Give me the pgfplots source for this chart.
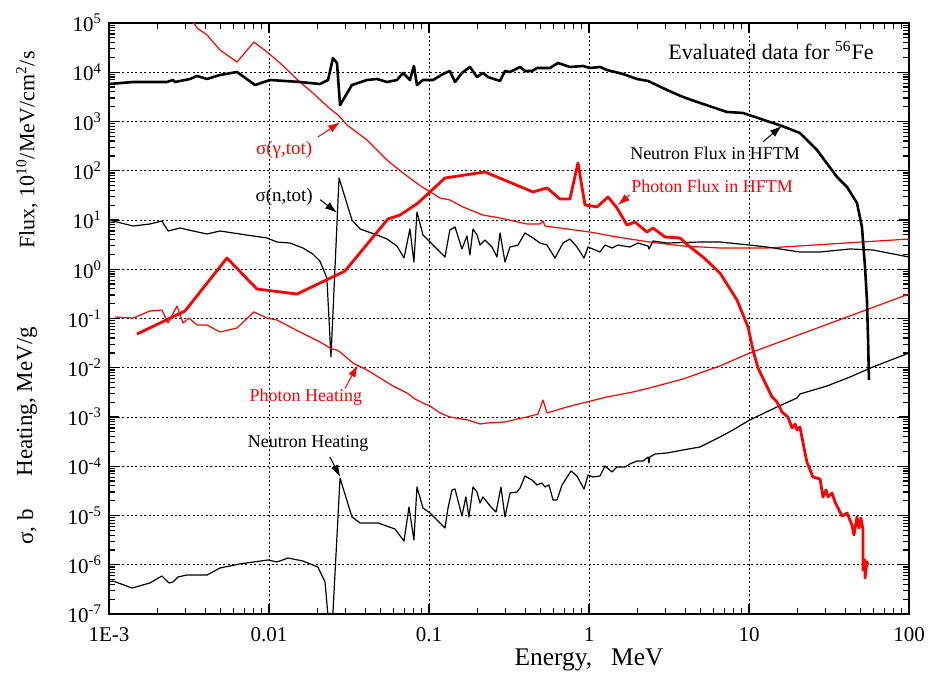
\documentclass[border=0pt]{standalone}
\usepackage{fontspec}
\setmainfont{Liberation Serif}
\usepackage{pgfplots}
\pgfplotsset{compat=1.18}
\usetikzlibrary{arrows.meta}

\begin{document}
\begin{tikzpicture}
\begin{axis}[
  scale only axis,
  width=400pt, height=295.5pt,
  xmode=log, ymode=log,
  xmin=1e-3, xmax=100, ymin=1e-7, ymax=1e5,
  xtick={1e-3,1e-2,1e-1,1,10,100},
  xticklabels={1E-3,0.01,0.1,1,10,100},
  ytick={1e-7,1e-6,1e-5,1e-4,1e-3,1e-2,1e-1,1,10,100,1e3,1e4,1e5},
  yticklabels={10\textsuperscript{-7},10\textsuperscript{-6},10\textsuperscript{-5},10\textsuperscript{-4},10\textsuperscript{-3},10\textsuperscript{-2},10\textsuperscript{-1},10\textsuperscript{0},10\textsuperscript{1},10\textsuperscript{2},10\textsuperscript{3},10\textsuperscript{4},10\textsuperscript{5}},
  tick label style={font=\fontsize{10.5}{12}\selectfont},
  xticklabel style={inner sep=0pt, yshift=-6.5pt},
  xmajorgrids, ymajorgrids,
  major grid style={black, line width=0.4pt, dash pattern=on 1pt off 1.2pt},
  axis line style={line width=1pt},
  major tick length=5pt, minor tick length=3pt,
  tick style={black, line width=0.6pt},
  xlabel={Energy,\hspace{0.75em}MeV},
  xlabel style={at={(axis description cs:0.6,-0.0875)}, anchor=base, inner sep=0pt, font=\fontsize{12.7}{15}\selectfont},
  clip mode=individual,
  every axis plot/.append style={line join=round},
]

% sigma(gamma,tot)
\addplot[red, line width=0.6pt] coordinates {
(3.12e-3,1.52e5) (3.40e-3,1e5) (3.55e-3,7.91e4) (4.10e-3,5.70e4) (4.94e-3,2.83e4)
(6.31e-3,1.61e4) (8.05e-3,4.11e4) (9.72e-3,2.58e4) (1.172e-2,1.54e4) (1.56e-2,6.34e3)
(1.88e-2,3.79e3) (2.41e-2,1.80e3) (2.70e-2,1.36e3) (3.07e-2,849) (4.10e-2,421)
(5.46e-2,165) (6.88e-2,90.0) (8.79e-2,50) (0.1172,28.0) (0.135,25.5) (0.163,18.4)
(0.2175,12.6) (0.278,11.0) (0.410,8.29) (0.494,8.29) (0.516,9.55) (0.531,7.55)
(0.729,6.57) (1.014,5.70) (1.496,4.52) (2.40,3.57) (3.87,2.96) (6.59,2.70)
(12.96,2.70) (100,4.11)
};

% sigma(n,tot)
\addplot[black, line width=0.6pt] coordinates {
(1e-3,10.0) (1.413e-3,7.55) (1.80e-3,8.29) (2.14e-3,9.55) (2.34e-3,5.98) (2.78e-3,6.88)
(3.35e-3,5.98) (4.10e-3,5.20) (4.94e-3,5.98) (5.96e-3,5.45) (9.72e-3,4.31) (1.122e-2,3.57)
(1.35e-2,3.41) (1.63e-2,2.70) (1.88e-2,2.04) (2.08e-2,1.47) (2.30e-2,0.664) (2.44e-2,0.0165)
(2.74e-2,71.3) (3.30e-2,10.0) (3.71e-2,6.57) (4.73e-2,4.96) (5.46e-2,4.11) (6.31e-2,2.96)
(6.98e-2,1.69) (7.60e-2,6.57) (8.05e-2,1.40) (8.41e-2,14.5) (9.17e-2,4.96) (0.1015,3.57)
(0.1259,1.77) (0.135,6.27) (0.1454,7.21) (0.1607,2.58) (0.1727,4.73) (0.1803,1.95)
(0.1884,6.57) (0.1995,4.96) (0.2084,3.10) (0.2239,3.92) (0.2477,2.83) (0.266,1.77)
(0.278,5.45) (0.2985,1.40) (0.3209,2.83) (0.360,3.10) (0.398,5.45) (0.4467,4.31)
(0.494,3.41) (0.5464,3.10) (0.613,1.69) (0.688,3.41) (0.760,4.11) (0.841,2.83)
(0.931,1.69) (0.986,2.83) (1.172,2.24) (1.259,3.10) (1.393,2.70) (1.518,3.10)
(1.80,2.83) (2.02,3.41) (2.34,2.96) (2.37,2.58) (2.512,3.75) (3.07,3.41) (4.94,3.57)
(6.59,3.57) (10.1,3.10) (12.96,2.83) (20.8,2.24) (27.8,2.24) (42.8,2.58) (59.6,2.46)
(100,1.77)
};

% photon heating
\addplot[red, line width=0.6pt] coordinates {
(1.09e-3,0.107) (1.413e-3,0.102) (1.80e-3,0.142) (2.14e-3,0.149) (2.34e-3,0.0811)
(2.66e-3,0.179) (2.90e-3,0.0811) (3.16e-3,0.102) (3.55e-3,0.0738) (4.10e-3,0.0738)
(4.94e-3,0.0532) (6.31e-3,0.0641) (8.05e-3,0.136) (9.72e-3,0.102) (1.122e-2,0.0933)
(1.56e-2,0.0532) (2.08e-2,0.0334) (2.48e-2,0.0240) (2.66e-2,0.0229) (2.78e-2,0.0209)
(3.35e-2,0.0125) (4.10e-2,8.99e-3) (4.94e-2,6.19e-3) (5.96e-2,4.26e-3) (7.29e-2,3.07e-3)
(8.18e-2,2.32e-3) (9.17e-2,1.92e-3) (0.1015,1.67e-3) (0.1172,1.21e-3) (0.135,1.0e-3)
(0.1607,9.10e-4) (0.1754,8.69e-4) (0.2084,7.21e-4) (0.2304,7.55e-4) (0.2985,7.92e-4)
(0.355,9.10e-4) (0.410,1.0e-3) (0.480,1.15e-3) (0.516,2.21e-3) (0.5464,1.21e-3)
(0.729,1.60e-3) (0.972,2.02e-3) (1.296,2.55e-3) (1.884,3.22e-3) (2.512,4.06e-3)
(3.87,5.91e-3) (6.59,0.0109) (10.1,0.0199) (79.4,0.238) (100,0.314)
};

% neutron heating
\addplot[black, line width=0.6pt] coordinates {
(1e-3,4.47e-7) (1.059e-3,4.68e-7) (1.393e-3,3.37e-7) (1.80e-3,4.26e-7) (2.14e-3,5.91e-7)
(2.37e-3,4.26e-7) (2.51e-3,4.47e-7) (2.70e-3,5.64e-7) (3.07e-3,6.19e-7) (4.10e-3,6.19e-7)
(4.94e-3,8.59e-7) (6.59e-3,1.04e-6) (9.86e-3,1.25e-6) (1.122e-2,1.14e-6) (1.315e-2,1.37e-6)
(1.63e-2,1.19e-6) (2.02e-2,9.00e-7) (2.24e-2,4.47e-7) (2.44e-2,1.86e-8) (2.78e-2,5.77e-5)
(3.30e-2,9.33e-6) (3.71e-2,7.05e-6) (4.80e-2,7.05e-6) (6.13e-2,5.32e-6) (6.98e-2,3.03e-6)
(7.50e-2,1.49e-5) (8.05e-2,3.18e-6) (8.41e-2,3.79e-5) (9.17e-2,1.42e-5) (0.1015,1.12e-5)
(0.1138,7.73e-6) (0.1259,5.57e-6) (0.1315,1.42e-5) (0.1393,3.30e-5) (0.1454,3.45e-5)
(0.1607,9.77e-6) (0.170,2.38e-5) (0.1778,9.33e-6) (0.1884,3.79e-5) (0.1995,3.00e-5)
(0.2084,1.79e-5) (0.2175,2.38e-5) (0.244,1.49e-5) (0.2625,1.18e-5) (0.2818,3.79e-5)
(0.2985,9.33e-6) (0.3209,2.86e-5) (0.355,3.00e-5) (0.3707,3.61e-5) (0.398,6.34e-5)
(0.4405,5.26e-5) (0.473,4.16e-5) (0.508,4.57e-5) (0.531,3.79e-5) (0.5623,4.16e-5)
(0.5957,2.07e-5) (0.631,2.07e-5) (0.678,4.16e-5) (0.772,8.02e-5) (0.841,6.34e-5)
(0.931,3.45e-5) (0.986,6.64e-5) (1.059,6.05e-5) (1.172,6.34e-5) (1.259,1.01e-4)
(1.393,7.64e-5) (1.496,9.66e-5) (1.679,9.66e-5) (1.80,1.11e-4) (1.995,1.28e-4)
(2.175,1.28e-4) (2.34,1.54e-4) (2.37,1.16e-4) (2.40,1.54e-4) (2.585,1.77e-4)
(3.07,1.86e-4) (3.87,2.14e-4) (4.94,2.46e-4) (6.59,3.93e-4) (7.94,5.45e-4)
(10.1,8.69e-4) (14.96,1.60e-3) (19.95,2.43e-3) (20.8,2.93e-3) (30.7,4.26e-3)
(42.8,6.49e-3) (59.6,0.0104) (100,0.0199)
};

% photon flux in HFTM
\addplot[red, line width=1.4pt] coordinates {
(1.496e-3,0.0484) (2.985e-3,0.142) (5.46e-3,1.69) (8.41e-3,0.397) (1.496e-2,0.314)
(2.985e-2,0.920) (5.54e-2,10.5) (6.59e-2,12.6) (8.53e-2,22.1) (0.1259,71.3) (0.2239,94.4)
(0.4467,37.1) (0.5464,44.7) (0.659,26.7) (0.760,26.7) (0.853,143.6) (0.944,20.2)
(1.122,18.4) (1.315,29.3) (1.496,17.5) (1.728,7.91) (1.94,9.10) (2.30,5.70) (2.512,6.88)
(2.985,4.52) (3.71,4.31) (4.28,2.83) (5.16,1.77) (6.59,0.839) (8.41,0.238) (9.86,0.0672)
(10.59,0.0229) (11.38,9.88e-3) (13.93,2.55e-3) (14.96,2.02e-3) (16.07,1.26e-3)
(17.5,1.0e-3) (18.57,5.98e-4) (19.4,7.21e-4) (19.95,5.45e-4) (20.8,6.27e-4) (23.0,1.22e-4)
(25.1,6.05e-5) (27.8,5.51e-5) (29.0,2.38e-5) (30.3,3.30e-5) (31.2,2.38e-5) (33.0,2.86e-5)
(34.5,1.88e-5) (38.1,9.77e-6) (41.0,1.12e-5) (44.0,6.41e-6) (45.3,4.02e-6) (47.3,9.33e-6)
(48.7,5.57e-6) (50.1,8.90e-6) (51.6,5.08e-6) (51.6,7.82e-7) (53.1,1.25e-6) (53.1,5.38e-7)
(54.6,1.14e-6) (55.5,9.88e-7)
};

% neutron flux in HFTM
\addplot[black, line width=1.3pt] coordinates {
(1e-3,5.77e3) (1.413e-3,6.34e3) (2.30e-3,6.34e3) (2.51e-3,6.96e3) (2.59e-3,6.34e3)
(3.21e-3,7.30e3) (3.55e-3,8.39e3) (4.10e-3,7.30e3) (4.94e-3,8.80e3) (6.31e-3,1.01e4)
(8.18e-3,5.51e3) (1.015e-2,6.96e3) (1.56e-2,6.34e3) (2.08e-2,5.77e3) (2.34e-2,6.96e3)
(2.51e-2,1.94e4) (2.66e-2,1.54e4) (2.78e-2,2.16e3) (3.30e-2,5.51e3) (4.10e-2,6.96e3)
(4.73e-2,7.30e3) (5.46e-2,6.34e3) (6.31e-2,6.96e3) (6.88e-2,9.66e3) (7.60e-2,6.96e3)
(8.05e-2,1.34e4) (8.41e-2,5.51e3) (9.17e-2,6.96e3) (0.106,6.96e3) (0.1224,9.21e3)
(0.135,1.06e4) (0.1454,6.34e3) (0.1607,9.66e3) (0.1803,1.28e4) (0.1995,8.02e3)
(0.2175,9.66e3) (0.2337,8.02e3) (0.278,6.64e3) (0.2985,1.06e4) (0.3209,1.01e4)
(0.3707,1.28e4) (0.398,1.06e4) (0.4405,1.06e4) (0.473,1.22e4) (0.570,1.22e4)
(0.640,1.54e4) (0.760,1.28e4) (0.917,1.34e4) (1.014,1.22e4) (1.172,1.28e4)
(1.296,1.11e4) (1.63,9.21e3) (1.995,7.30e3) (2.34,6.64e3) (3.07,4.37e3) (3.87,3.14e3)
(4.94,2.38e3) (7.29,1.56e3) (9.17,1.49e3) (12.96,1.02e3) (16.07,811) (20.8,584)
(26.6,264) (35.5,74.6) (41.0,46.8) (47.3,22.1) (50.8,7.21) (53.1,1.11) (54.6,0.238)
(55.5,0.0366) (56.2,5.64e-3)
};

% annotations
\node[font=\fontsize{11}{13}\selectfont] at (rel axis cs:0.8275,0.954) {Evaluated data for \textsuperscript{56}Fe};
\node[font=\fontsize{9}{11}\selectfont] at (rel axis cs:0.7575,0.780) {Neutron Flux in HFTM};
\draw[-{Latex[length=6pt,width=4pt]}, line width=0.5pt] (rel axis cs:0.8175,0.799) -- (rel axis cs:0.841,0.826);
\node[red, font=\fontsize{9}{11}\selectfont] at (rel axis cs:0.754,0.724) {Photon Flux in HFTM};
\draw[red, -{Latex[length=6pt,width=4pt]}, line width=0.5pt] (rel axis cs:0.651,0.709) -- (rel axis cs:0.636,0.692);
\node[red, font=\fontsize{9.5}{11}\selectfont] at (rel axis cs:0.219,0.785) {σ(γ,tot)};
\draw[red, -{Latex[length=6pt,width=4pt]}, line width=0.5pt] (rel axis cs:0.261,0.807) -- (rel axis cs:0.289,0.832);
\node[font=\fontsize{9.5}{11}\selectfont] at (rel axis cs:0.219,0.706) {σ(n,tot)};
\draw[-{Latex[length=6pt,width=4pt]}, line width=0.5pt] (rel axis cs:0.264,0.701) -- (rel axis cs:0.285,0.679);
\node[red, font=\fontsize{9}{11}\selectfont] at (rel axis cs:0.246,0.367) {Photon Heating};
\draw[red, -{Latex[length=6pt,width=4pt]}, line width=0.5pt] (rel axis cs:0.295,0.382) -- (rel axis cs:0.311,0.421);
\node[font=\fontsize{9}{11}\selectfont] at (rel axis cs:0.249,0.288) {Neutron Heating};
\draw[-{Latex[length=6pt,width=4pt]}, line width=0.5pt] (rel axis cs:0.276,0.266) -- (rel axis cs:0.289,0.232);

% y axis label, three parts
\node[rotate=90, font=\fontsize{11.5}{13}\selectfont] at (rel axis cs:-0.1025,0.147) {σ, b};
\node[rotate=90, font=\fontsize{11.5}{13}\selectfont] at (rel axis cs:-0.1025,0.359) {Heating, MeV/g};
\node[rotate=90, font=\fontsize{11}{13}\selectfont] at (rel axis cs:-0.1025,0.785) {Flux, 10\textsuperscript{10}/MeV/cm\textsuperscript{2}/s};

\coordinate (sw) at (rel axis cs:0,0);
\coordinate (ne) at (rel axis cs:1,1);
\end{axis}
\pgfresetboundingbox
\path ([shift={(-54.5pt,-30pt)}]sw) rectangle ([shift={(11pt,11.5pt)}]ne);
\end{tikzpicture}
\end{document}
